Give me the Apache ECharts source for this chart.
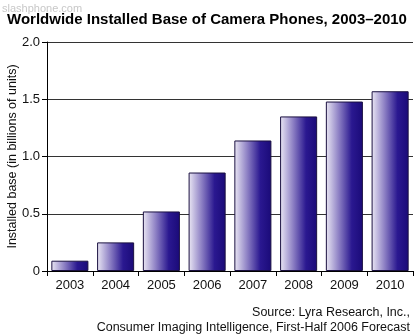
<!DOCTYPE html>
<html>
<head>
<meta charset="utf-8">
<script src="https://cdn.jsdelivr.net/npm/echarts@6/dist/echarts.min.js"></script>
<style>
  html, body { margin: 0; padding: 0; background: #fff; }
  #chart { width: 414px; height: 334px; }
</style>
</head>
<body>
<div id="chart"></div>
<script>
// Installed base of camera phones, billions of units
const years = ['2003', '2004', '2005', '2006', '2007', '2008', '2009', '2010'];
const installedBase = [0.09, 0.25, 0.52, 0.86, 1.14, 1.35, 1.48, 1.57];
const yTicks = [0, 0.5, 1.0, 1.5, 2.0];

const chart = echarts.init(document.getElementById('chart'), null, { renderer: 'canvas' });
const font = '"Liberation Sans", Arial, sans-serif';

const barFill = new echarts.graphic.LinearGradient(0, 0, 1, 0, [
  { offset: 0, color: '#ebe8f4' },
  { offset: 0.35, color: '#8d80c4' },
  { offset: 0.7, color: '#2a1890' },
  { offset: 1, color: '#1a0a78' }
]);

chart.setOption({
  animation: false,
  textStyle: { fontFamily: font },
  graphic: [
    {
      type: 'text', x: 2, y: 3,
      style: { text: 'slashphone.com', fontSize: 11, fill: '#c8c8c8', fontFamily: font }
    },
    {
      type: 'text', x: 410, y: 305,
      style: {
        text: 'Source: Lyra Research, Inc.,\nConsumer Imaging Intelligence, First-Half 2006 Forecast',
        align: 'right', verticalAlign: 'top', fontSize: 12.5, lineHeight: 15,
        fill: '#111', fontFamily: font
      }
    }
  ],
  title: {
    text: 'Worldwide Installed Base of Camera Phones, 2003\u20132010',
    left: 'center', top: 7,
    textStyle: { fontSize: 15, fontWeight: 'bold', color: '#000', fontFamily: font }
  },
  grid: { left: 47, right: 1, top: 42, bottom: 63, containLabel: false, outerBoundsMode: 'none' },
  xAxis: {
    type: 'category',
    data: years,
    axisLine: { lineStyle: { color: '#000', width: 1 } },
    axisTick: { show: true, length: 5, lineStyle: { color: '#000' } },
    axisLabel: { fontSize: 13, color: '#111', margin: 8, fontFamily: font }
  },
  yAxis: {
    type: 'value',
    min: 0, max: 2, interval: 0.5,
    name: 'Installed base (in billions of units)',
    nameLocation: 'middle', nameGap: 28, nameRotate: 90, nameMoveOverlap: false,
    nameTextStyle: { fontSize: 12.5, color: '#111', fontFamily: font },
    axisLine: { show: true, lineStyle: { color: '#000', width: 1 } },
    axisTick: { show: true, length: 5, lineStyle: { color: '#000' } },
    axisLabel: {
      fontSize: 13, color: '#111', margin: 7, fontFamily: font,
      formatter: v => (yTicks.includes(v) ? (v === 0 ? '0' : v.toFixed(1)) : '')
    },
    splitLine: { show: true, lineStyle: { color: '#333', width: 1 } }
  },
  series: [{
    type: 'bar',
    data: installedBase,
    barCategoryGap: '19%',
    itemStyle: { color: barFill, borderColor: '#1a1040', borderWidth: 1 }
  }]
});
</script>
</body>
</html>
